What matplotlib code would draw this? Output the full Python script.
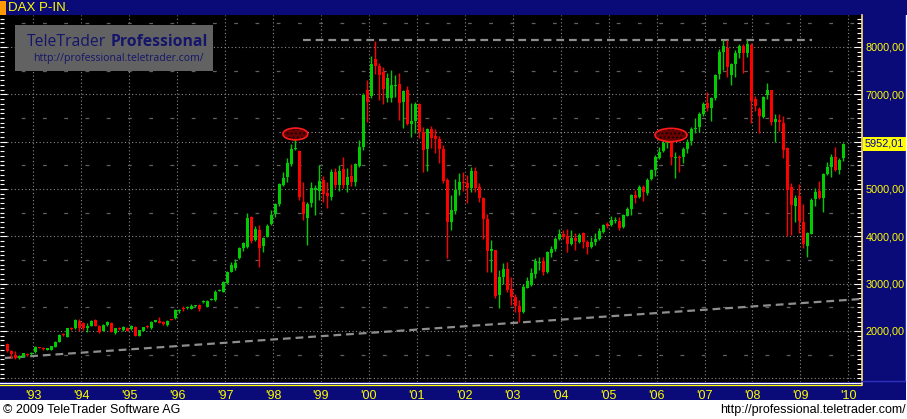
import matplotlib
matplotlib.use("Agg")
import matplotlib.pyplot as plt
from matplotlib.patches import Rectangle, Ellipse
from matplotlib.ticker import MultipleLocator, FixedLocator
import numpy as np

# ---------------- data (monthly candles, Jul 1992 .. Dec 2009) ----------------
opens = [1718, 1585, 1493, 1430, 1458, 1515, 1510, 1550, 1655, 1650,
         1600, 1600, 1670, 1775, 1930, 1880, 2060, 2056, 2211, 2160,
         2070, 2113, 2232, 2113, 2000, 2127, 2176, 1950, 2060, 2021,
         2070, 2035, 2092, 1900, 2007, 2099, 2056, 2211, 2197, 2197,
         2127, 2246, 2268, 2440, 2479, 2490, 2465, 2530, 2549, 2620,
         2514, 2670, 2655, 2860, 2830, 3007, 3253, 3324, 3535, 3746,
         3781, 4415, 3922, 4133, 3795, 3992, 4260, 4471, 4675, 5084,
         5260, 5527, 5851, 5802, 4731, 4380, 4696, 5000, 4957, 5189,
         4922, 4837, 5365, 5084, 5421, 5084, 5274, 5154, 5492, 5879,
         7090, 6963, 7745, 7597, 7477, 6914, 6928, 7196, 7217, 6829,
         7090, 6365, 6435, 6794, 6196, 5844, 6266, 6118, 6055, 5844,
         5196, 4309, 4534, 4978, 5154, 5119, 5013, 5386, 5048, 4816,
         4365, 3696, 3710, 2760, 3148, 3309, 2887, 2725, 2535, 2408,
         2915, 2971, 3197, 3450, 3478, 3239, 3640, 3732, 3943, 4049,
         4006, 3837, 3971, 3887, 4063, 3887, 3781, 3873, 3943, 4098,
         4253, 4239, 4330, 4323, 4189, 4436, 4577, 4872, 4823, 5048,
         4908, 5210, 5400, 5661, 5802, 5978, 5999, 5668, 5682, 5668,
         5844, 6013, 6280, 6316, 6590, 6808, 6703, 6914, 7421, 7900,
         7984, 7407, 7639, 7864, 8019, 7878, 8040, 6900, 6689, 6527,
         6984, 7090, 6407, 6456, 6400, 5872, 5048, 4647, 4851, 4309,
         3802, 4056, 4795, 4950, 4816, 5309, 5457, 5682, 5400, 5647]
closes = [1578, 1507, 1423, 1480, 1528, 1500, 1540, 1670, 1650, 1615,
          1640, 1675, 1775, 1915, 1920, 2056, 2050, 2232, 2060, 2056,
          2113, 2211, 2113, 1986, 2127, 2197, 1986, 2056, 2045, 2092,
          2000, 2106, 1900, 2021, 2077, 2085, 2197, 2218, 2190, 2141,
          2218, 2240, 2444, 2444, 2470, 2500, 2535, 2540, 2465, 2634,
          2634, 2676, 2830, 2866, 3042, 3253, 3394, 3429, 3746, 3866,
          4394, 3901, 4147, 3746, 3971, 4225, 4443, 4682, 5098, 5238,
          5541, 5844, 5865, 4837, 4471, 4682, 5027, 5013, 5168, 4893,
          4858, 5365, 5084, 5379, 5084, 5245, 5154, 5527, 5893, 6984,
          6829, 7639, 7604, 7407, 7111, 7336, 7196, 7210, 6808, 7069,
          6365, 6435, 6794, 6210, 5823, 6266, 6069, 6055, 5844, 5175,
          4309, 4555, 4978, 5154, 5119, 5013, 5386, 5013, 4816, 4365,
          3697, 3725, 2739, 3148, 3309, 2866, 2725, 2535, 2408, 2936,
          3056, 3218, 3478, 3470, 3253, 3661, 3725, 3950, 4049, 3992,
          3837, 3971, 3901, 4028, 3887, 3781, 3873, 3943, 4112, 4239,
          4239, 4344, 4344, 4168, 4450, 4577, 4872, 4816, 5048, 4929,
          5189, 5400, 5668, 5788, 5978, 5985, 5682, 5675, 5668, 5844,
          5999, 6266, 6294, 6590, 6801, 6703, 6928, 7407, 7900, 8019,
          7583, 7639, 7878, 8019, 7878, 8054, 6858, 6759, 6548, 6949,
          7090, 6421, 6477, 6421, 5823, 4978, 4661, 4802, 4323, 3830,
          4063, 4767, 4943, 4816, 5316, 5471, 5682, 5400, 5611, 5949]
highs = [1740, 1600, 1580, 1490, 1545, 1535, 1555, 1680, 1670, 1660,
         1650, 1690, 1790, 1930, 1960, 2070, 2080, 2245, 2260, 2200,
         2160, 2240, 2250, 2130, 2140, 2220, 2190, 2070, 2080, 2110,
         2090, 2120, 2100, 2030, 2090, 2120, 2220, 2240, 2290, 2220,
         2235, 2260, 2460, 2470, 2520, 2530, 2560, 2555, 2560, 2650,
         2660, 2690, 2860, 2880, 3060, 3270, 3450, 3530, 3780, 3880,
         4500, 4430, 4220, 4240, 3990, 4260, 4560, 4700, 5130, 5350,
         5647, 5942, 6196, 5823, 5154, 4717, 5154, 5084, 5506, 5274,
         5154, 5421, 5435, 5506, 5682, 5450, 5527, 5555, 6034, 7020,
         7301, 7808, 8132, 7653, 7583, 7442, 7512, 7407, 7442, 7090,
         7174, 6808, 6829, 6808, 6316, 6280, 6330, 6266, 6118, 5928,
         5224, 4872, 5210, 5330, 5351, 5295, 5471, 5471, 5119, 4837,
         4471, 3922, 3720, 3288, 3429, 3464, 3148, 2774, 2655, 2986,
         3148, 3324, 3549, 3556, 3570, 3680, 3802, 3992, 4147, 4133,
         4154, 4133, 4063, 4063, 4084, 3922, 3992, 4063, 4168, 4253,
         4309, 4429, 4400, 4415, 4471, 4626, 4893, 4978, 5084, 5084,
         5224, 5421, 5717, 5893, 6069, 6104, 6161, 5788, 5717, 5893,
         6055, 6316, 6506, 6618, 6829, 7041, 6949, 7421, 7949, 8146,
         8146, 7653, 7935, 8054, 8054, 8146, 8075, 6970, 6738, 6970,
         7230, 7090, 6583, 6583, 6548, 5893, 5119, 4872, 5105, 4682,
         4084, 4816, 5027, 5175, 5330, 5562, 5731, 5893, 5647, 5978]
lows = [1560, 1423, 1408, 1410, 1450, 1480, 1500, 1540, 1640, 1600,
        1590, 1595, 1660, 1770, 1890, 1870, 2030, 2050, 2000, 2030,
        1986, 2100, 2100, 1950, 1990, 2110, 1970, 1940, 2020, 2010,
        1990, 2020, 1890, 1890, 2000, 2060, 2050, 2190, 2160, 2120,
        2110, 2225, 2260, 2390, 2420, 2470, 2455, 2510, 2430, 2600,
        2510, 2650, 2640, 2840, 2820, 3000, 3240, 3280, 3520, 3700,
        3760, 3860, 3900, 3359, 3660, 3980, 4240, 4400, 4630, 5060,
        5154, 5492, 5823, 4767, 4344, 3816, 4626, 4450, 4767, 4731,
        4605, 4767, 5013, 4964, 5027, 4943, 5070, 5070, 5471, 5823,
        6407, 6914, 7421, 6879, 6794, 6843, 6843, 6949, 6456, 6294,
        6351, 6104, 6175, 6069, 5351, 5379, 5872, 5766, 5555, 5119,
        3535, 4133, 4471, 4872, 4964, 4710, 4943, 4943, 4731, 3936,
        3253, 3253, 2690, 2493, 2986, 2830, 2549, 2408, 2197, 2387,
        2900, 2957, 3112, 3288, 3183, 3218, 3570, 3700, 3930, 3943,
        3676, 3816, 3711, 3850, 3746, 3619, 3760, 3816, 3922, 4063,
        4168, 4225, 4290, 4133, 4170, 4420, 4450, 4696, 4802, 4745,
        4872, 5189, 5274, 5633, 5788, 5858, 5506, 5238, 5365, 5555,
        5752, 5928, 6189, 6196, 6540, 6646, 6435, 6879, 7322, 7512,
        7372, 7196, 7372, 7773, 7442, 7794, 6386, 6646, 6175, 6506,
        6900, 6351, 5999, 6224, 5661, 4006, 4028, 4295, 4063, 3746,
        3570, 4042, 4647, 4780, 4520, 5295, 5259, 5386, 5316, 5597]

year_labels = ["'93", "'94", "'95", "'96", "'97", "'98", "'99", "'00", "'01",
               "'02", "'03", "'04", "'05", "'06", "'07", "'08", "'09", "'10"]
price_ticks = [2000, 3000, 4000, 5000, 6000, 7000, 8000]
price_labels = ["2000,00", "3000,00", "4000,00", "5000,00", "", "7000,00", "8000,00"]
last_value = 5952.01
last_label = "5952,01"

# annotation lines / markers (index units, price)
resistance = ([73.9, 201.2], [8148, 8148])
trend = ([-0.6, 213.4], [1430, 2676])
level_line = ([67.9, 213.4], [6204, 6204])
highlight_marks = [(72.0, 6162, 6.2, 250), (165.9, 6141, 8.0, 280)]

SANS = ["Liberation Sans", "DejaVu Sans"]

# ---------------- figure ----------------
W, H = 907, 419
fig = plt.figure(figsize=(W / 100, H / 100), dpi=100, facecolor="white")

bg = fig.add_axes([0, 0, 1, 1], zorder=0)
bg.set_xlim(0, W)
bg.set_ylim(H, 0)
bg.axis("off")

navy = "#0a0a78"
# header bar
bg.add_patch(Rectangle((0, 0), W, 15, facecolor=navy, edgecolor="none"))
bg.add_patch(Rectangle((0, 1), 6, 14, facecolor="#ff9900", edgecolor="none"))
bg.text(8, 8, "DAX P-IN.", color="#ffff00", fontsize=9.5, va="center", ha="left",
        family=SANS)
# right panel
bg.add_patch(Rectangle((861, 15), 45, 385, facecolor=navy, edgecolor="none"))
bg.add_patch(Rectangle((904.5, 15), 1.5, 385, facecolor="#3030c0", edgecolor="none"))
# bottom time axis band
bg.add_patch(Rectangle((0, 382), 906, 18, facecolor=navy, edgecolor="none"))
bg.plot([0, 861], [382.5, 382.5], color="white", lw=0.9)
bg.plot([0, 861], [384.5, 384.5], color="#ffff00", lw=0.9)
bg.plot([861.5, 861.5], [15, 384.5], color="#ffe070", lw=1.2)
bg.plot([861, 905], [380.5, 380.5], color="#3030c0", lw=1.0)

# footer texts
bg.text(3, 410, "\u00a9 2009 TeleTrader Software AG", color="black", fontsize=9,
        va="center", ha="left", family=SANS)
bg.text(906, 410, "http://professional.teletrader.com/", color="black", fontsize=9,
        va="center", ha="right", family=SANS)

# ---------------- chart axes ----------------
ax = fig.add_axes([0 / W, (H - 382) / H, 861 / W, (382 - 15) / H], zorder=2)
ax.set_facecolor("black")
ax.set_xlim(-1.825, 213.4)
ax.set_ylim(922, 8676)
for s in ax.spines.values():
    s.set_visible(False)

n = len(opens)
idx = np.arange(n)
o = np.array(opens, float)
c = np.array(closes, float)
hi = np.array(highs, float)
lo = np.array(lows, float)
up = c >= o
cols = np.where(up, "#00cc00", "#ff0000")

# grid
ytick_pos = [6.5 + 11.985 * k for k in range(len(year_labels))]
for xv in ytick_pos:
    ax.axvline(xv, color="#8a8a8a", lw=0.8, ls=(0, (1, 2.2)), zorder=1)
for yv in range(1000, 9000, 1000):
    ax.axhline(yv, color="#8a8a8a", lw=0.8, ls=(0, (1, 2.2)), zorder=1)
for yv in range(1500, 9000, 1000):
    ax.axhline(yv, color="#606060", lw=0.9, ls=(0, (3, 14)), zorder=1)

# level / trend lines
ax.plot(*level_line, color="#9a9a9a", lw=0.8, ls=(0, (1, 2.2)), zorder=2)
ax.plot(*resistance, color="#8e8e8e", lw=1.6, ls=(0, (3.5, 2.2)), zorder=2)
ax.plot(*trend, color="#8e8e8e", lw=1.6, ls=(0, (3.5, 2.2)), zorder=2)

# candles
ax.vlines(idx, lo, hi, colors=cols, lw=1.0, zorder=3)
bh = np.maximum(np.abs(c - o), 22)
bot = np.minimum(o, c) - np.where(np.abs(c - o) < 22, 11, 0)
ax.bar(idx, bh, bottom=bot, width=0.78, color=cols, edgecolor="none", zorder=4)

# highlight ellipses
for (xc, yc, w, h) in highlight_marks:
    ax.add_patch(Ellipse((xc, yc), w, h, facecolor="#6a0000", edgecolor="#1a0000",
                         lw=0, hatch="....", zorder=5))
    ax.add_patch(Ellipse((xc, yc), w, h, facecolor="none", edgecolor="#ff1a1a",
                         lw=1.2, zorder=6))

# ticks
ax.set_xticks(ytick_pos)
ax.set_xticklabels(year_labels)
ax.tick_params(axis="x", length=0, pad=5.5, labelsize=9, labelcolor="#ffff00")
for t in ax.get_xticklabels():
    t.set_family(SANS)

ax.yaxis.set_major_locator(FixedLocator(price_ticks))
ax.yaxis.set_minor_locator(MultipleLocator(100))
ax.set_yticklabels(price_labels)
ax.tick_params(axis="y", which="both", left=True, right=True, labelleft=False,
               labelright=True, direction="in", color="white", width=0.8)
ax.tick_params(axis="y", which="major", length=5, pad=3.5, labelsize=7.8,
               labelcolor="#ffff00")
ax.tick_params(axis="y", which="minor", length=3)
for t in ax.get_yticklabels():
    t.set_family(SANS)

# last value label
ax.annotate(last_label, xy=(1.0, last_value), xycoords=("axes fraction", "data"),
            xytext=(2.6, 0), textcoords="offset points", va="center", ha="left",
            fontsize=7.8, color="#0000a0", annotation_clip=False, family=SANS,
            bbox=dict(boxstyle="square,pad=0.15", facecolor="#ffff00", edgecolor="none"))

# watermark box
wm = fig.add_axes([15 / W, (H - 71) / H, 198 / W, 46 / H], zorder=6)
wm.set_facecolor("#626262")
wm.set_xticks([]); wm.set_yticks([])
for s in wm.spines.values():
    s.set_visible(False)
t1 = wm.text(0.06, 0.62, "TeleTrader", transform=wm.transAxes, ha="left", va="center",
             color="#15156a", fontsize=11.3, family=["Open Sans", "DejaVu Sans"])
wm.annotate("Professional", xy=(1, 0.5), xycoords=t1, xytext=(3.5, 0),
            textcoords="offset points", ha="left", va="center",
            color="#15156a", fontsize=11.3, fontweight="bold",
            family=["Open Sans", "DejaVu Sans"])
wm.text(0.955, 0.27, "http://professional.teletrader.com/", transform=wm.transAxes,
        ha="right", va="center", color="#15156a", fontsize=7.6,
        family=["Open Sans", "DejaVu Sans"])

fig.savefig("out.png", dpi=100, facecolor="white")
